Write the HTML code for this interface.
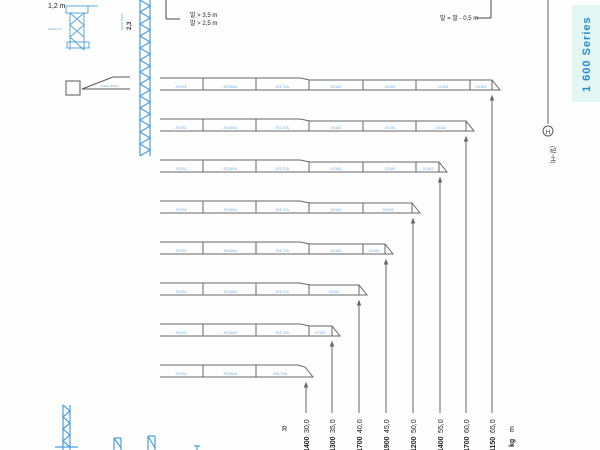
<!DOCTYPE html>
<html><head><meta charset="utf-8"><style>
body{margin:0;background:#fff}
svg{display:block;font-family:"Liberation Sans","Noto Sans CJK KR",sans-serif}
.j{stroke:#666;stroke-width:1;fill:none}
.l{font-size:4px;fill:#6aaee6;text-anchor:middle}
.r{font-size:7px;fill:#222}
.k{font-size:7px;fill:#222;font-weight:bold}
</style></head><body>
<svg width="600" height="450" viewBox="0 0 600 450" xmlns="http://www.w3.org/2000/svg">
<rect width="600" height="450" fill="#fefefe"/>
<rect x="572" y="5" width="28" height="97" fill="#e2f6f4"/>
<text transform="translate(590,92) rotate(-90)" font-size="11" font-weight="bold" fill="#2a8ccc" letter-spacing="1">1 600 Series</text>
<line x1="548" y1="0" x2="548" y2="124" stroke="#666"/>
<circle cx="548" cy="131" r="5" fill="none" stroke="#555"/>
<text x="548" y="134" font-size="6" text-anchor="middle" fill="#333">H</text>
<text transform="translate(551,146) rotate(90)" font-size="6" fill="#333">(발~H)</text>
<text x="48" y="8" font-size="7" fill="#222">1,2 m</text>
<text x="190" y="17" font-size="6" fill="#222">발 &gt; 3,5 m</text>
<text x="190" y="25" font-size="6" fill="#222">발 &gt; 2,5 m</text>
<line x1="166" y1="0" x2="166" y2="19" stroke="#444"/><line x1="166" y1="19" x2="180" y2="19" stroke="#444"/>
<text x="440" y="20" font-size="6" fill="#222">발 = 발 - 0,5 m</text>
<line x1="491" y1="0" x2="491" y2="18" stroke="#444"/><line x1="476" y1="18" x2="491" y2="18" stroke="#444"/>
<g stroke="#5aa6dc" fill="none" stroke-width="1">
<rect x="66" y="6" width="22" height="7"/>
<path d="M70 13 L70 50 M84 13 L84 50 M70 13 L84 25 L70 37 L84 50 M84 13 L70 25 L84 37"/>
<rect x="67" y="42" width="22" height="6"/>
<line x1="88" y1="6" x2="98" y2="6"/>
</g>
<text x="48" y="30" font-size="3" fill="#5aa6dc">HS220 TC</text>
<text transform="translate(123,30) rotate(-90)" font-size="3" fill="#5aa6dc">GEAR SR20</text>
<text transform="translate(131,30) rotate(-90)" font-size="6" font-weight="bold" fill="#333">2,3</text>
<rect x="66" y="81" width="14" height="14" fill="none" stroke="#555"/>
<path d="M82 89 L113 77 L130 77" stroke="#555" fill="none"/>
<line x1="82" y1="89" x2="130" y2="89" stroke="#555"/>
<text x="100" y="87" font-size="3" fill="#5aa6dc">JCJ24 JCH32</text>
<g stroke="#4a9ee0" stroke-width="1.2" fill="none">
<line x1="140" y1="0" x2="140" y2="156"/><line x1="150" y1="0" x2="150" y2="156"/>
<path d="M140 0 L150 6 L140 12 L150 18 L140 24 L150 30 L140 36 L150 42 L140 48 L150 54 L140 60 L150 66 L140 72 L150 78 L140 84 L150 90 L140 96 L150 102 L140 108 L150 114 L140 120 L150 126 L140 132 L150 138 L140 144 L150 150 L140 156"/>
</g>

<!-- row 0 -->
<path class="j" d="M160 78 L300 78 L310 80 L492 80 L500 90 L160 90 M203 78V90 M256 78V90 M309 80V90 M363 80V90 M416 80V90 M470 80V90 M492 80V90"/>
<text class="l" x="181" y="88">JS1S1</text><text class="l" x="230" y="88">JS160A</text><text class="l" x="282" y="88">JS172A</text><text class="l" x="336" y="88">JS181</text><text class="l" x="390" y="88">JS181</text><text class="l" x="443" y="88">JS181</text><text class="l" x="481" y="88">JS181</text>
<!-- row 1 -->
<path class="j" d="M160 119 L300 119 L310 121 L466 121 L474 131 L160 131 M203 119V131 M256 119V131 M309 121V131 M363 121V131 M416 121V131 M466 121V131"/>
<text class="l" x="181" y="129">JS1S1</text><text class="l" x="230" y="129">JS160A</text><text class="l" x="282" y="129">JS172A</text><text class="l" x="336" y="129">JS181</text><text class="l" x="390" y="129">JS181</text><text class="l" x="441" y="129">JS181</text>
<!-- row 2 -->
<path class="j" d="M160 160 L300 160 L310 162 L439 162 L447 172 L160 172 M203 160V172 M256 160V172 M309 162V172 M363 162V172 M416 162V172 M439 162V172"/>
<text class="l" x="181" y="170">JS1S1</text><text class="l" x="230" y="170">JS160A</text><text class="l" x="282" y="170">JS172A</text><text class="l" x="336" y="170">JS181</text><text class="l" x="390" y="170">JS181</text><text class="l" x="428" y="170">JS181</text>
<!-- row 3 -->
<path class="j" d="M160 201 L300 201 L310 203 L412 203 L420 213 L160 213 M203 201V213 M256 201V213 M309 203V213 M363 203V213 M412 203V213"/>
<text class="l" x="181" y="211">JS1S1</text><text class="l" x="230" y="211">JS160A</text><text class="l" x="282" y="211">JS172A</text><text class="l" x="336" y="211">JS181</text><text class="l" x="388" y="211">JS181</text>
<!-- row 4 -->
<path class="j" d="M160 242 L300 242 L310 244 L385 244 L393 254 L160 254 M203 242V254 M256 242V254 M309 244V254 M363 244V254 M385 244V254"/>
<text class="l" x="181" y="252">JS1S1</text><text class="l" x="230" y="252">JS160A</text><text class="l" x="282" y="252">JS172A</text><text class="l" x="336" y="252">JS181</text><text class="l" x="374" y="252">JS181</text>
<!-- row 5 -->
<path class="j" d="M160 283 L300 283 L310 285 L359 285 L367 295 L160 295 M203 283V295 M256 283V295 M309 285V295 M359 285V295"/>
<text class="l" x="181" y="293">JS1S1</text><text class="l" x="230" y="293">JS160A</text><text class="l" x="282" y="293">JS172A</text><text class="l" x="334" y="293">JS181</text>
<!-- row 6 -->
<path class="j" d="M160 324 L300 324 L310 326 L332 326 L340 336 L160 336 M203 324V336 M256 324V336 M309 326V336 M332 326V336"/>
<text class="l" x="181" y="334">JS1S1</text><text class="l" x="230" y="334">JS160A</text><text class="l" x="282" y="334">JS172A</text><text class="l" x="320" y="334">JS181</text>
<!-- row 7 -->
<path class="j" d="M160 365 L298 365 L305 367 L313 377 L160 377 M203 365V377 M256 365V377"/>
<text class="l" x="181" y="375">JS1S1</text><text class="l" x="230" y="375">JS160A</text><text class="l" x="280" y="375">JS172A</text>

<!-- arrows -->
<g stroke="#666" fill="#666">
<line x1="492" y1="97" x2="492" y2="413"/><path d="M490.5 100 L492 96 L493.5 100Z"/>
<line x1="466" y1="138" x2="466" y2="413"/><path d="M464.5 141 L466 137 L467.5 141Z"/>
<line x1="440" y1="179" x2="440" y2="413"/><path d="M438.5 182 L440 178 L441.5 182Z"/>
<line x1="413" y1="220" x2="413" y2="413"/><path d="M411.5 223 L413 219 L414.5 223Z"/>
<line x1="386" y1="261" x2="386" y2="413"/><path d="M384.5 264 L386 260 L387.5 264Z"/>
<line x1="359" y1="302" x2="359" y2="413"/><path d="M357.5 305 L359 301 L360.5 305Z"/>
<line x1="332" y1="343" x2="332" y2="413"/><path d="M330.5 346 L332 342 L333.5 346Z"/>
<line x1="306" y1="384" x2="306" y2="413"/><path d="M304.5 387 L306 383 L307.5 387Z"/>
</g>
<text x="282" y="431" class="r">R</text>
<text class="r" transform="translate(309,433) rotate(-90)">30,0</text><text class="k" transform="translate(309,452) rotate(-90)">1400</text>
<text class="r" transform="translate(335,433) rotate(-90)">35,0</text><text class="k" transform="translate(335,452) rotate(-90)">1300</text>
<text class="r" transform="translate(362,433) rotate(-90)">40,0</text><text class="k" transform="translate(362,452) rotate(-90)">1700</text>
<text class="r" transform="translate(389,433) rotate(-90)">45,0</text><text class="k" transform="translate(389,452) rotate(-90)">1900</text>
<text class="r" transform="translate(416,433) rotate(-90)">50,0</text><text class="k" transform="translate(416,452) rotate(-90)">1200</text>
<text class="r" transform="translate(443,433) rotate(-90)">55,0</text><text class="k" transform="translate(443,452) rotate(-90)">1400</text>
<text class="r" transform="translate(469,433) rotate(-90)">60,0</text><text class="k" transform="translate(469,452) rotate(-90)">1700</text>
<text class="r" transform="translate(495,433) rotate(-90)">65,0</text><text class="k" transform="translate(495,452) rotate(-90)">1150</text>
<text class="r" transform="translate(514,432) rotate(-90)">m</text>
<text class="k" transform="translate(514,447) rotate(-90)">kg</text>
<g stroke="#4a9ee0" stroke-width="1.2" fill="none">
<path d="M63 405 L63 450 M70 405 L70 450 M63 405 L70 411 L63 417 L70 423 L63 429 L70 435 L63 441 L70 447"/>
<line x1="55" y1="447" x2="78" y2="447"/>
<path d="M114 438 L114 450 M121 438 L121 450 M114 438 L121 448 M114 438 L121 438"/>
<path d="M148 436 L148 450 M155 436 L155 450 M148 436 L155 448 M148 436 L155 436"/>
<path d="M194 446 L200 446 M197 446 L197 450"/>
</g>
</svg>
</body></html>
